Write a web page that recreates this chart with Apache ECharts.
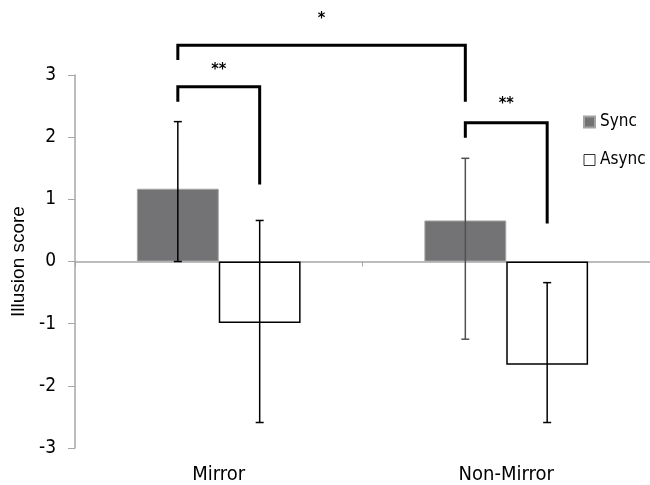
<!DOCTYPE html>
<html>
<head>
<meta charset="utf-8">
<script src="https://cdn.jsdelivr.net/npm/echarts@6/dist/echarts.min.js"></script>
<style>
  html, body { margin: 0; padding: 0; background: #fff; }
  #chart { width: 650px; height: 485px; }
</style>
</head>
<body>
<div id="chart"></div>
<script>
// Illusion score by mirror condition and synchrony
const categories = ['Mirror', 'Non-Mirror'];
const seriesNames = ['Sync', 'Async'];
const syncMean = [1.17, 0.66];
const syncLow = [0.0, -1.25];
const syncHigh = [2.25, 1.66];
const asyncMean = [-0.99, -1.66];
const asyncLow = [-2.59, -2.59];
const asyncHigh = [0.66, -0.34];
const yMin = -3, yMax = 3, yStep = 1;

// significance comparisons: endpoints as [category index, series index]
const bracketLabels = ['**', '**', '*'];
const bracketFrom = [[0, 0], [1, 0], [0, 0]];
const bracketTo = [[0, 1], [1, 1], [1, 0]];
const bracketTop = [2.81, 2.23, 3.48];
const bracketFromEnd = [2.57, 1.99, 3.24];
const bracketToEnd = [1.24, 0.61, 2.57];
const bracketLabelLevel = [3.08, 2.53, 3.90];

const FONT = '"DejaVu Sans Condensed", "DejaVu Sans", sans-serif';
const BAR_FRAC = 0.2847;            // bar width as share of a category band
const SERIES_OFFSET = [-0.5, 0.5];  // bar centre offsets in bar widths

function barCenterX(api, cat, s) {
  const band = api.size([1, 0])[0];
  return api.coord([cat, 0])[0] + SERIES_OFFSET[s] * band * BAR_FRAC;
}

function errorBarRenderer(s, colors) {
  return function (params, api) {
    const cat = api.value(0);
    const x = barCenterX(api, cat, s);
    const yLo = api.coord([cat, api.value(1)])[1];
    const yHi = api.coord([cat, api.value(2)])[1];
    const style = { stroke: colors[params.dataIndex], lineWidth: 1.5 };
    const cap = 4;
    return {
      type: 'group',
      children: [
        { type: 'line', shape: { x1: x, y1: yHi, x2: x, y2: yLo }, style: style },
        { type: 'line', shape: { x1: x - cap, y1: yHi, x2: x + cap, y2: yHi }, style: style },
        { type: 'line', shape: { x1: x - cap, y1: yLo, x2: x + cap, y2: yLo }, style: style }
      ]
    };
  };
}

function bracketRenderer(params, api) {
  const i = params.dataIndex;
  const x1 = barCenterX(api, bracketFrom[i][0], bracketFrom[i][1]);
  const x2 = barCenterX(api, bracketTo[i][0], bracketTo[i][1]);
  const yTop = api.coord([0, bracketTop[i]])[1];
  const y1 = api.coord([0, bracketFromEnd[i]])[1];
  const y2 = api.coord([0, bracketToEnd[i]])[1];
  const yLabel = api.coord([0, bracketLabelLevel[i]])[1];
  return {
    type: 'group',
    children: [
      {
        type: 'polyline',
        shape: { points: [[x1, y1], [x1, yTop], [x2, yTop], [x2, y2]] },
        style: { stroke: '#000', lineWidth: 3, fill: null, lineJoin: 'miter' }
      },
      {
        type: 'text',
        style: {
          x: (x1 + x2) / 2, y: yLabel, text: bracketLabels[i],
          align: 'center', verticalAlign: 'middle',
          font: 'bold 16px ' + FONT, fill: '#000'
        }
      }
    ]
  };
}

const chart = echarts.init(document.getElementById('chart'), null, { renderer: 'canvas' });

chart.setOption({
  animation: false,
  backgroundColor: '#fff',
  grid: { left: 75, width: 576, top: 75, bottom: 36, containLabel: false },
  legend: {
    data: [
      { name: seriesNames[0] },
      { name: seriesNames[1], itemStyle: { borderWidth: 1, borderColor: '#333' } }
    ],
    orient: 'vertical',
    left: 583,
    top: 113,
    padding: 0,
    itemWidth: 11,
    itemHeight: 11,
    itemGap: 20,
    icon: 'rect',
    textStyle: { fontFamily: FONT, fontSize: 17, color: '#000', lineHeight: 18 }
  },
  xAxis: [
    {
      type: 'category',
      data: categories,
      axisLine: { onZero: true, lineStyle: { color: '#a6a6a6', width: 1.5 } },
      axisTick: { show: true, length: 5, lineStyle: { color: '#a6a6a6' } },
      axisLabel: { show: false },
      splitLine: { show: false }
    },
    {
      type: 'category',
      data: categories,
      position: 'bottom',
      axisLine: { show: false, onZero: false },
      axisTick: { show: false },
      axisLabel: { fontFamily: FONT, fontSize: 20, color: '#000', margin: 17 },
      splitLine: { show: false }
    }
  ],
  yAxis: {
    type: 'value',
    min: yMin,
    max: yMax,
    interval: yStep,
    name: 'Illusion score',
    nameLocation: 'middle',
    nameGap: 45,
    nameTextStyle: { fontFamily: '"Liberation Sans", Arial, sans-serif', fontSize: 19, color: '#000' },
    axisLine: { show: true, lineStyle: { color: '#a6a6a6', width: 1.5 } },
    axisTick: { show: true, length: 7, lineStyle: { color: '#a6a6a6' } },
    axisLabel: { fontFamily: FONT, fontSize: 19, color: '#000', margin: 19 },
    splitLine: { show: false }
  },
  series: [
    {
      name: 'Sync',
      type: 'bar',
      xAxisIndex: 0,
      data: syncMean,
      barWidth: (BAR_FRAC * 100) + '%',
      barGap: '0%',
      itemStyle: { color: '#737375', borderColor: '#a3a3a3', borderWidth: 1 },
      z: 2
    },
    {
      name: 'Async',
      type: 'bar',
      xAxisIndex: 0,
      data: asyncMean,
      barWidth: (BAR_FRAC * 100) + '%',
      barGap: '0%',
      itemStyle: { color: '#ffffff', borderColor: '#000', borderWidth: 1.5 },
      z: 2
    },
    {
      type: 'custom',
      xAxisIndex: 0,
      data: categories.map((c, i) => [i, syncLow[i], syncHigh[i]]),
      renderItem: errorBarRenderer(0, ['#000', '#505050']),
      z: 5,
      silent: true
    },
    {
      type: 'custom',
      xAxisIndex: 0,
      data: categories.map((c, i) => [i, asyncLow[i], asyncHigh[i]]),
      renderItem: errorBarRenderer(1, ['#000', '#000']),
      z: 5,
      silent: true
    },
    {
      type: 'custom',
      xAxisIndex: 0,
      data: bracketLabels.map((l, i) => [0, bracketTop[i]]),
      renderItem: bracketRenderer,
      clip: false,
      z: 6,
      silent: true
    }
  ]
});
</script>
</body>
</html>
